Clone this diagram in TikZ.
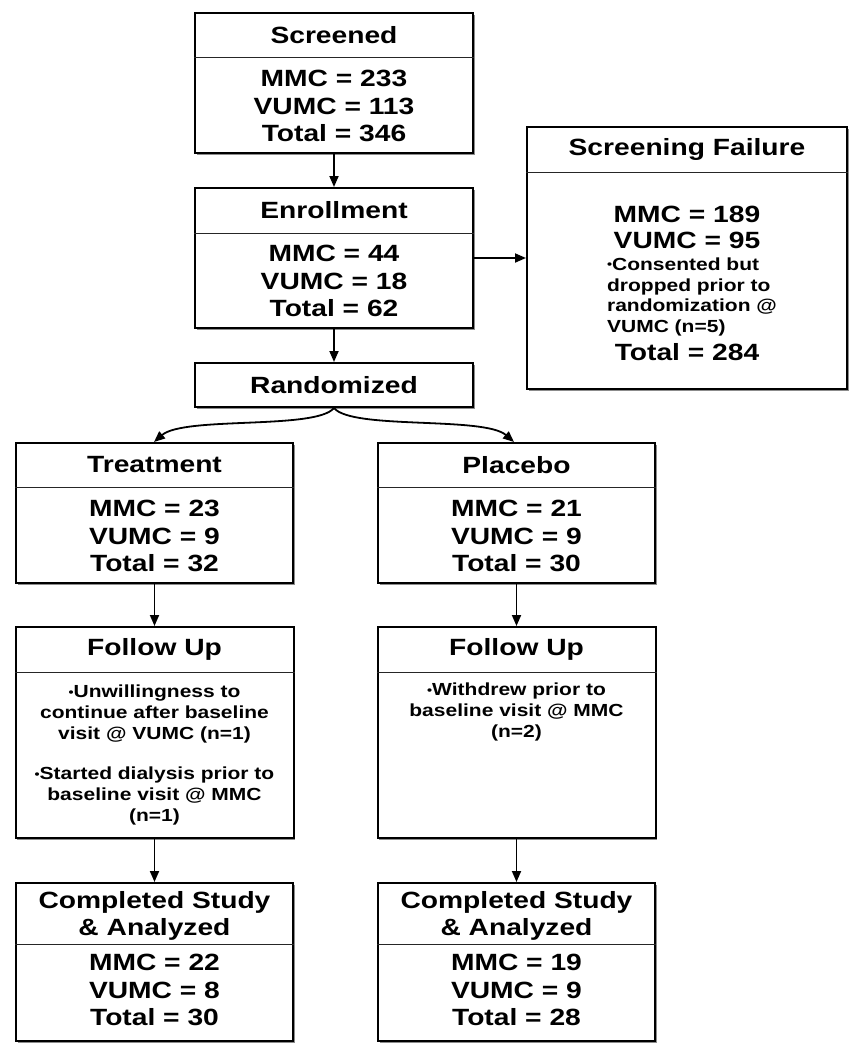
\documentclass[tikz,border=0pt]{standalone}
\usepackage{fontspec}
\setmainfont{Liberation Sans}[FakeStretch=1.2]
\usetikzlibrary{arrows.meta,shadows}
\newcommand\smbullet{\raisebox{1.6pt}{\fontsize{12}{12}\selectfont •}}
\begin{document}
\begin{tikzpicture}[x=1pt,y=-1pt,
  box/.style={draw, line width=2pt, fill=white, inner sep=0pt,
    drop shadow={shadow xshift=1.6pt, shadow yshift=-1.6pt, fill=black!45, opacity=1}},
  big/.style={font=\bfseries\fontsize{23.5}{27.5}\selectfont, align=center, inner sep=0pt},
  small/.style={font=\bfseries\fontsize{17.5}{20.7}\selectfont, align=center, inner sep=0pt},
  hline/.style={line width=1pt, black!85},
  arr/.style={line width=1.8pt, -{Triangle[length=11pt,width=9pt]}},
]
\useasboundingbox (0,0) rectangle (856,1050);

% boxes
\node[box, minimum width=278pt, minimum height=140pt] (screened) at (334,83) {};
\node[box, minimum width=278pt, minimum height=140pt] (enroll) at (334,258) {};
\node[box, minimum width=320pt, minimum height=262pt] (fail) at (687,258) {};
\node[box, minimum width=278pt, minimum height=44pt] (rand) at (334,385) {};
\node[box, minimum width=277pt, minimum height=140pt] (treat) at (154.5,513) {};
\node[box, minimum width=277pt, minimum height=140pt] (plac) at (516.5,513) {};
\node[box, minimum width=278pt, minimum height=211pt] (fu1) at (154.5,732.5) {};
\node[box, minimum width=278pt, minimum height=211pt] (fu2) at (516.5,732.5) {};
\node[box, minimum width=277pt, minimum height=158pt] (comp1) at (154.5,962) {};
\node[box, minimum width=277pt, minimum height=158pt] (comp2) at (516.5,962) {};

% header separators
\draw[hline] (screened.west |- 0,57) -- (screened.east |- 0,57);
\draw[hline] (enroll.west |- 0,233) -- (enroll.east |- 0,233);
\draw[hline] (fail.west |- 0,172) -- (fail.east |- 0,172);
\draw[hline] (treat.west |- 0,487) -- (treat.east |- 0,487);
\draw[hline] (plac.west |- 0,487) -- (plac.east |- 0,487);
\draw[hline] (fu1.west |- 0,672) -- (fu1.east |- 0,672);
\draw[hline] (fu2.west |- 0,672) -- (fu2.east |- 0,672);
\draw[hline] (comp1.west |- 0,944) -- (comp1.east |- 0,944);
\draw[hline] (comp2.west |- 0,944) -- (comp2.east |- 0,944);

% texts
\node[big] (t-scr) at (334,35) {Screened};
\node[big] (b-scr) at (334,106) {MMC = 233\\VUMC = 113\\Total = 346};
\node[big] (t-enr) at (334,210.5) {Enrollment};
\node[big] (b-enr) at (334,281) {MMC = 44\\VUMC = 18\\Total = 62};
\node[big] (t-fail) at (687,149.5) {Screening Failure};
\node[big, anchor=base] (b-fail1) at (687,222) {MMC = 189};
\node[big, anchor=base] (b-fail2) at (687,248) {VUMC = 95};
\node[small, align=left, anchor=north] (b-fail3) at (692,257.5) {\smbullet Consented but\\dropped prior to\\randomization @\\VUMC (n=5)};
\node[big, anchor=base] (b-fail4) at (687,360) {Total = 284};
\node[big] (t-rand) at (334,385) {Randomized};
\node[big] (t-tr) at (154.5,465) {Treatment};
\node[big] (b-tr) at (154.5,536) {MMC = 23\\VUMC = 9\\Total = 32};
\node[big] (t-pl) at (516.5,465) {Placebo};
\node[big] (b-pl) at (516.5,536) {MMC = 21\\VUMC = 9\\Total = 30};
\node[big] (t-fu1) at (154.5,649.5) {Follow Up};
\node[small] (b-fu1) at (154.5,755) {\smbullet Unwillingness to\\continue after baseline\\visit @ VUMC (n=1)\\[20pt]\smbullet Started dialysis prior to\\baseline visit @ MMC\\(n=1)};
\node[big] (t-fu2) at (516.5,649.5) {Follow Up};
\node[small, anchor=north] (b-fu2) at (516.5,683) {\smbullet Withdrew prior to\\baseline visit @ MMC\\(n=2)};
\node[big] (t-c1) at (154.5,916) {Completed Study\\\& Analyzed};
\node[big] (b-c1) at (154.5,990) {MMC = 22\\VUMC = 8\\Total = 30};
\node[big] (t-c2) at (516.5,916) {Completed Study\\\& Analyzed};
\node[big] (b-c2) at (516.5,990) {MMC = 19\\VUMC = 9\\Total = 28};

% connectors
\draw[arr] (screened.south) -- (enroll.north);
\draw[arr] (enroll.east) -- (fail.west);
\draw[arr] (enroll.south) -- (rand.north);
\draw[arr] (rand.south) .. controls +(-18,22) and +(30,-26) .. ([xshift=-0.5pt]treat.north);
\draw[arr] (rand.south) .. controls +(18,22) and +(-30,-26) .. ([xshift=-2.5pt]plac.north);
\draw[arr] (treat.south) -- (fu1.north);
\draw[arr] (plac.south) -- (fu2.north);
\draw[arr] (fu1.south) -- (comp1.north);
\draw[arr] (fu2.south) -- (comp2.north);
\end{tikzpicture}
\end{document}
